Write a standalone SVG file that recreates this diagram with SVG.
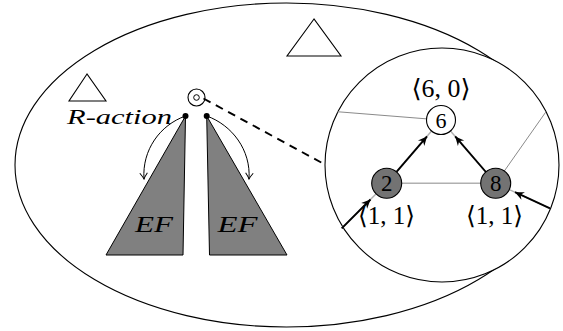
<svg xmlns="http://www.w3.org/2000/svg" width="563" height="331" viewBox="0 0 563 331">
<style>
.outline{fill:none;stroke:#000;stroke-width:1.1}
.tri{fill:#fff;stroke:#000;stroke-width:1.1}
.wedge{fill:#808080;stroke:#000;stroke-width:1}
.grey{stroke:#8a8a8a;stroke-width:1;fill:none}
.greyl{stroke:#b0b0b0;stroke-width:1.4;fill:none}
.thick{stroke:#000;stroke-width:1.9;fill:none;marker-end:url(#ah)}
.thin{stroke:#000;stroke-width:1;fill:none;marker-end:url(#ao)}
.dash{stroke:#000;stroke-width:1.9;stroke-dasharray:8 6;fill:none}
.math{font-family:"Liberation Serif","DejaVu Serif",serif;fill:#000;font-weight:normal}
.it{font-style:italic}
</style>
<defs>
<marker id="ah" markerUnits="userSpaceOnUse" viewBox="-11 -6 12 12" markerWidth="12" markerHeight="12" refX="0" refY="0" orient="auto">
<path d="M0,0 L-9,-4.2 L-6.2,0 L-9,4.2 Z" fill="#000"/>
</marker>
<marker id="ao" markerUnits="userSpaceOnUse" viewBox="-9 -6 10 12" markerWidth="10" markerHeight="12" refX="0" refY="0" orient="auto">
<path d="M-6,-3.8 Q-2,-0.8 0,0 Q-2,0.8 -6,3.8" fill="none" stroke="#000" stroke-width="1"/>
</marker>
</defs>
<g id="outer">
<ellipse cx="286.5" cy="165" rx="271.5" ry="162" class="outline"/>
</g>
<g id="triangles">
<polygon points="87,74 69,101 106,101" class="tri"/>
<polygon points="314,19 287,56 341,56" class="tri"/>
</g>
<g id="wedges">
<polygon points="185.5,116 106,255 183,255" class="wedge"/>
<polygon points="206.7,116 209.5,255 287,255" class="wedge"/>
<circle cx="185.5" cy="116" r="3" fill="#000"/>
<circle cx="206.7" cy="116" r="3" fill="#000"/>
<text x="154" y="232" class="math it" font-size="24" text-anchor="middle" textLength="38" lengthAdjust="spacingAndGlyphs">EF</text>
<text x="237.5" y="232" class="math it" font-size="24" text-anchor="middle" textLength="40" lengthAdjust="spacingAndGlyphs">EF</text>
</g>
<g id="r-action">
<circle cx="196.5" cy="97.5" r="8.5" fill="#fff" stroke="#000" stroke-width="1.1"/>
<circle cx="196.5" cy="97.5" r="2.8" fill="none" stroke="#000" stroke-width="1"/>
<text x="67" y="124" class="math it" font-size="21" textLength="105" lengthAdjust="spacingAndGlyphs">R-action</text>
</g>
<g id="connectors">
<path d="M203.5,98.5 L324,164" class="dash"/>
<path d="M185.5,116 C160,125 142,150 144,179" class="thin"/>
<path d="M206.7,116 C232,125 251,150 249,179" class="thin"/>
</g>
<g id="zoom-circle">
<circle cx="442" cy="165" r="117" fill="#fff" stroke="#000" stroke-width="1.1"/>
</g>
<g id="edges">
<line x1="337" y1="111.7" x2="441" y2="120" class="grey"/>
<line x1="546" y1="111.7" x2="495.7" y2="183.3" class="grey"/>
<line x1="386.7" y1="183.3" x2="495.7" y2="183.3" class="greyl"/>
<line x1="386.7" y1="183.3" x2="441" y2="120" class="greyl"/>
<line x1="495.7" y1="183.3" x2="441" y2="120" class="greyl"/>
<line x1="341.7" y1="228.3" x2="386.7" y2="183.3" class="greyl"/>
<line x1="550" y1="208.3" x2="495.7" y2="183.3" class="greyl"/>
<path d="M396.5,171.9 L427,136.4" class="thick"/>
<path d="M485.9,172 L455.2,136.4" class="thick"/>
<path d="M341.7,228.3 L370.5,199.5" class="thick"/>
<path d="M550,208.3 L515,192.2" class="thick"/>
</g>
<g id="node6">
<circle cx="441" cy="120" r="14.5" fill="#fff" stroke="#000" stroke-width="1.1"/>
<text x="441" y="128" class="math" font-size="22" text-anchor="middle">6</text>
<text x="441" y="97" class="math" font-size="25" text-anchor="middle" textLength="59" lengthAdjust="spacingAndGlyphs">⟨6, 0⟩</text>
</g>
<g id="node2">
<circle cx="386.7" cy="183.3" r="15" fill="#737373" stroke="#000" stroke-width="1.1"/>
<text x="386.7" y="191" class="math" font-size="23" text-anchor="middle">2</text>
<text x="386.5" y="223.5" class="math" font-size="25" text-anchor="middle" textLength="57" lengthAdjust="spacingAndGlyphs">⟨1, 1⟩</text>
</g>
<g id="node8">
<circle cx="495.7" cy="183.3" r="15" fill="#737373" stroke="#000" stroke-width="1.1"/>
<text x="495.7" y="191" class="math" font-size="23" text-anchor="middle">8</text>
<text x="494.5" y="223.5" class="math" font-size="25" text-anchor="middle" textLength="57" lengthAdjust="spacingAndGlyphs">⟨1, 1⟩</text>
</g>
</svg>
